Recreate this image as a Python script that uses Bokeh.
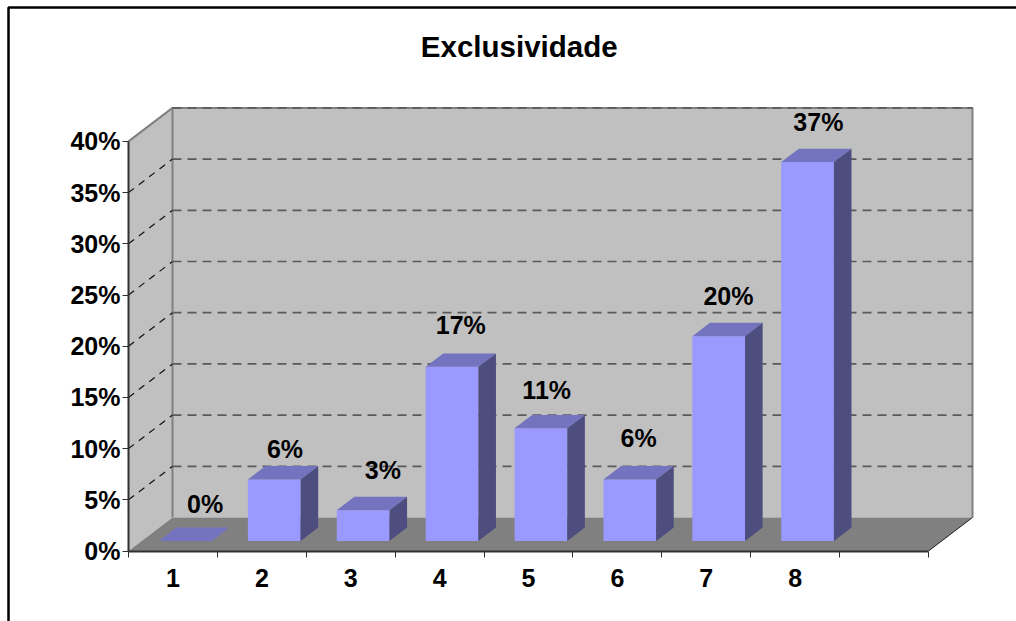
from bokeh.core.properties import value
from bokeh.embed import file_html
from bokeh.models import (BoxAnnotation, ColumnDataSource, FixedTicker, LinearAxis,
                          Range1d)
from bokeh.plotting import figure
from bokeh.resources import INLINE

# Survey shares, in percent
categories = ["1", "2", "3", "4", "5", "6", "7", "8"]
shares = [0, 6, 3, 17, 11, 6, 20, 37]
y_ticks = [0, 5, 10, 15, 20, 25, 30, 35, 40]
chart_title = "Exclusividade"

# Pixel nudges of each value label, relative to the top of its bar
label_dx = [11, 2, 11, 0, -3, 0, 1, 2]
label_dy = [-3, -9, 0, 2, -2, 2, 0, 0]

WIDTH, HEIGHT = 1016, 621
AXIS_X, AXIS_Y = 128, 550.5          # where the origin of the front plane sits
PX_PER_CAT = 800 / 9
PX_PER_PCT = 10.24
N_SLOTS = 9
Y_MAX = 40
DEPTH_X = 44 / PX_PER_CAT            # oblique depth of the box, in category units
DEPTH_Y = 33.5 / PX_PER_PCT          # and in percent units
BAR_WIDTH = 0.593
BAR_NEAR, BAR_FAR = 0.3, 0.7         # bars occupy this slice of the floor depth
BAR_SHIFT = -0.009                   # small sideways correction of the bar row

WALL, FLOOR = "#C0C0C0", "#808080"
BAR_FRONT, BAR_TOP, BAR_SIDE = "#9999FF", "#7373BF", "#4D4D80"
FONT = "Liberation Sans"

p = figure(width=WIDTH, height=HEIGHT, output_backend="svg", toolbar_location=None,
           x_axis_type=None, y_axis_type=None,
           x_range=Range1d(-AXIS_X / PX_PER_CAT, (WIDTH - AXIS_X) / PX_PER_CAT),
           y_range=Range1d((AXIS_Y - HEIGHT) / PX_PER_PCT, AXIS_Y / PX_PER_PCT),
           min_border_left=0, min_border_top=0, min_border_right=0, min_border_bottom=0,
           background_fill_color="white", border_fill_color="white",
           outline_line_color=None)
p.grid.visible = False

# Box walls and floor
p.patch([0, DEPTH_X, DEPTH_X, 0], [0, DEPTH_Y, Y_MAX + DEPTH_Y, Y_MAX], fill_color=WALL, line_color=None)
p.patch([DEPTH_X, N_SLOTS + DEPTH_X, N_SLOTS + DEPTH_X, DEPTH_X],
        [DEPTH_Y, DEPTH_Y, Y_MAX + DEPTH_Y, Y_MAX + DEPTH_Y], fill_color=WALL, line_color=None)
p.patch([0, N_SLOTS, N_SLOTS + DEPTH_X, DEPTH_X], [0, 0, DEPTH_Y, DEPTH_Y], fill_color=FLOOR, line_color=None)

# Solid box edges
p.line([0, DEPTH_X, N_SLOTS + DEPTH_X, N_SLOTS + DEPTH_X],
       [Y_MAX, Y_MAX + DEPTH_Y, Y_MAX + DEPTH_Y, DEPTH_Y], line_color=FLOOR, line_width=2)
p.line([DEPTH_X, DEPTH_X], [DEPTH_Y, Y_MAX + DEPTH_Y], line_color=FLOOR, line_width=2)
p.line([N_SLOTS, N_SLOTS + DEPTH_X], [0, DEPTH_Y], line_color="#202020", line_width=1)

# Gridlines: thin on the side wall, heavier across the back wall
grid_levels = [t for t in y_ticks if t > 0]
p.multi_line([[0, DEPTH_X] for _ in grid_levels[:-1]],
             [[t, t + DEPTH_Y] for t in grid_levels[:-1]],
             line_color="#101010", line_width=1.2, line_dash="7 6")
p.multi_line([[DEPTH_X, N_SLOTS + DEPTH_X] for _ in grid_levels],
             [[t + DEPTH_Y, t + DEPTH_Y] for t in grid_levels],
             line_color="#5A5A5A", line_width=1.7, line_dash="9 6")

# Bars as three visible faces
near_x, near_y = BAR_NEAR * DEPTH_X, BAR_NEAR * DEPTH_Y
far_x, far_y = BAR_FAR * DEPTH_X, BAR_FAR * DEPTH_Y
lefts = [i + 0.5 - BAR_WIDTH / 2 + near_x + BAR_SHIFT for i in range(len(shares))]
rights = [l + BAR_WIDTH for l in lefts]
run_x, run_y = far_x - near_x, far_y - near_y

fronts = ColumnDataSource(dict(left=lefts, right=rights, top=[near_y + v for v in shares],
                               bottom=[near_y] * len(shares)))
p.quad(left="left", right="right", top="top", bottom="bottom", source=fronts,
       fill_color=BAR_FRONT, line_color=None)
p.patches([[l, r, r + run_x, l + run_x] for l, r in zip(lefts, rights)],
          [[near_y + v, near_y + v, far_y + v, far_y + v] for v in shares],
          fill_color=BAR_TOP, line_color=None)
p.patches([[r, r + run_x, r + run_x, r] for r in rights],
          [[near_y, far_y, far_y + v, near_y + v] for v in shares],
          fill_color=BAR_SIDE, line_color=None)

# Value labels above each bar
labels = ColumnDataSource(dict(
    x=[l + BAR_WIDTH / 2 + run_x / 2 for l in lefts],
    y=[near_y + v for v in shares],
    text=[f"{v}%" for v in shares],
    dx=label_dx,
    dy=[-40 - d for d in label_dy],
))
p.text(x="x", y="y", text="text", source=labels, x_offset="dx", y_offset="dy",
       text_align="center", text_baseline="alphabetic", text_font=value(FONT),
       text_font_style="bold", text_font_size="25px", text_color="black")

# Chart title, centred over the box
p.text(x=[(518.7 - AXIS_X) / PX_PER_CAT], y=[(AXIS_Y - 46) / PX_PER_PCT], text=[chart_title],
       text_align="center", text_baseline="alphabetic", text_font=value(FONT),
       text_font_style="bold", text_font_size="29.5px", text_color="black")

# Front axes pinned to the origin of the box
y_axis = LinearAxis(fixed_location=0, bounds=(0, Y_MAX), ticker=FixedTicker(ticks=y_ticks),
                    major_label_overrides={t: f"{t}%" for t in y_ticks})
x_axis = LinearAxis(fixed_location=0, bounds=(0, N_SLOTS),
                    ticker=FixedTicker(ticks=[i + 0.5 for i in range(len(categories))],
                                       minor_ticks=list(range(N_SLOTS + 1))),
                    major_label_overrides={i + 0.5: c for i, c in enumerate(categories)})
for axis in (x_axis, y_axis):
    axis.axis_line_color = "#303030"
    axis.axis_line_width = 2
    axis.major_label_text_font = FONT
    axis.major_label_text_font_style = "bold"
    axis.major_label_text_font_size = "25px"
    axis.major_label_text_color = "black"
y_axis.major_tick_out = 6
y_axis.major_tick_in = 0
y_axis.major_tick_line_color = "#303030"
y_axis.minor_tick_line_color = None
y_axis.major_label_standoff = 2
x_axis.major_tick_line_color = None
x_axis.minor_tick_out = 6
x_axis.minor_tick_in = 0
x_axis.minor_tick_line_color = "#303030"
x_axis.major_label_standoff = 12
p.add_layout(y_axis, "left")
p.add_layout(x_axis, "below")

# Chart-area border: only its top and left edges fall on the page
# (vertical screen units count from the bottom here)
p.add_layout(BoxAnnotation(left=8, right=WIDTH + 20, top=HEIGHT - 7, bottom=-20,
                           left_units="screen", right_units="screen",
                           top_units="screen", bottom_units="screen",
                           fill_alpha=0, line_color="black", line_alpha=1, line_width=2.5,
                           level="overlay"))

open("out.html", "w").write(file_html(p, INLINE))
